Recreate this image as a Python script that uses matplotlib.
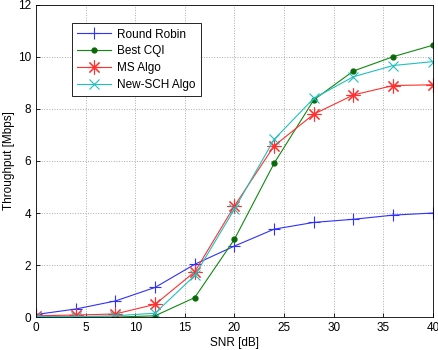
import matplotlib
matplotlib.use("Agg")
import matplotlib.pyplot as plt

plt.rcParams['font.family'] = ['Liberation Sans', 'DejaVu Sans']

snr = [0, 4, 8, 12, 16, 20, 24, 28, 32, 36, 40]
round_robin = [0.10, 0.31, 0.62, 1.14, 2.03, 2.73, 3.38, 3.64, 3.76, 3.92, 4.00]
best_cqi = [0.02, 0.02, 0.00, 0.05, 0.75, 2.99, 5.91, 8.35, 9.46, 10.01, 10.45]
ms_algo = [0.05, 0.08, 0.12, 0.49, 1.74, 4.27, 6.58, 7.80, 8.54, 8.90, 8.93]
new_sch = [0.02, 0.02, 0.05, 0.15, 1.60, 4.15, 6.83, 8.41, 9.24, 9.67, 9.82]

xticks = [0, 5, 10, 15, 20, 25, 30, 35, 40]
yticks = [0, 2, 4, 6, 8, 10, 12]

fig = plt.figure(figsize=(4.39, 3.5), dpi=100)
ax = fig.add_axes([0.082, 0.094, 0.904, 0.892])

ax.plot(snr, round_robin, color='#3030ff', lw=0.8, marker='+', ms=8, mew=0.8, label='Round Robin')
ax.plot(snr, best_cqi, color='#118811', lw=0.8, marker='.', ms=7, mfc='#0a6a0a', mec='#0a6a0a', label='Best CQI')
ax.plot(snr, ms_algo, color='#ff3030', lw=0.8, marker=(8, 2, 0), ms=10, mew=0.8, label='MS Algo')
ax.plot(snr, new_sch, color='#20c0c0', lw=0.8, marker='x', ms=7, mew=0.8, label='New-SCH Algo')

ax.set_xlim(0, 40)
ax.set_ylim(0, 12)
ax.set_xticks(xticks)
ax.set_yticks(yticks)
ax.tick_params(direction='in', labelsize=8.5, length=3, width=0.6)
ax.grid(True, linestyle=':', color='#aaaaaa', lw=0.7)
for s in ax.spines.values():
    s.set_linewidth(0.6)
ax.set_xlabel('SNR [dB]', fontsize=8.5, labelpad=2)
ax.set_ylabel('Throughput [Mbps]', fontsize=8.5, labelpad=2)

leg = ax.legend(loc='upper left', bbox_to_anchor=(0.075, 0.96), fontsize=8.5,
                fancybox=False, framealpha=1, edgecolor='black',
                handlelength=2.9, handletextpad=0.5, borderpad=0.45, labelspacing=0.4)
leg.get_frame().set_linewidth(0.6)

fig.savefig('out.png', dpi=100)
